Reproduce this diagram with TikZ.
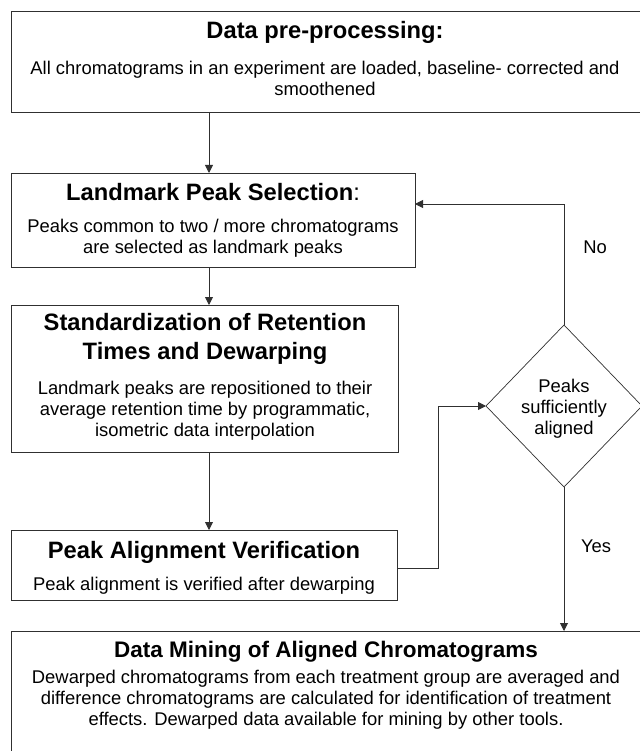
\documentclass[tikz,border=0pt]{standalone}
\usepackage{fontspec}
\setmainfont{Liberation Sans}
\usetikzlibrary{arrows.meta,shapes.geometric}
\definecolor{linegray}{HTML}{303030}
\begin{document}
\begin{tikzpicture}[x=1pt,y=-1pt,
  box/.style={draw=linegray, line width=0.9pt, inner sep=0pt, outer sep=0pt, anchor=north west},
  ttl/.style={font=\fontsize{23.7}{29.5}\selectfont\bfseries, align=center, inner sep=0pt},
  txt/.style={font=\fontsize{18.4}{21}\selectfont, align=center, inner sep=0pt},
  lbl/.style={font=\fontsize{18.4}{21}\selectfont, inner sep=0pt},
  conn/.style={draw=linegray, line width=0.9pt},
  arr/.style={conn, -{Triangle[length=8pt,width=8pt]}}]
\useasboundingbox (0,0) rectangle (639,751);
% boxes
\node[box, minimum width=631pt, minimum height=101pt] (pre) at (11,11) {};
\node[box, minimum width=404pt, minimum height=94pt] (lm) at (11,173) {};
\node[box, minimum width=387pt, minimum height=147pt] (std) at (11,305) {};
\node[box, minimum width=386pt, minimum height=70pt] (pav) at (11,530) {};
\node[box, minimum width=631pt, minimum height=130pt] (dm) at (11,631) {};
\node[draw=linegray, line width=0.7pt, shape=diamond, minimum width=156pt, minimum height=162pt, inner sep=0pt, outer sep=0pt] (dec) at (564,406) {};
% texts
\node[ttl] (preT) at (325,32) {Data pre-processing:};
\node[txt] (preB) at (325,78) {All chromatograms in an experiment are loaded, baseline- corrected and\\smoothened};
\node[ttl] (lmT) at (213,192) {Landmark Peak Selection\textmd{:}};
\node[txt] (lmB) at (213,238) {Peaks common to two / more chromatograms\\are selected as landmark peaks};
\node[ttl] (stdT) at (205,339) {Standardization of Retention\\Times and Dewarping};
\node[txt] (stdB) at (205,411) {Landmark peaks are repositioned to their\\average retention time by programmatic,\\isometric data interpolation};
\node[ttl] (pavT) at (204,552) {Peak Alignment Verification};
\node[txt] (pavB) at (204,586) {Peak alignment is verified after dewarping};
\node[ttl, font=\fontsize{22.5}{28}\selectfont\bfseries] (dmT) at (326,652) {Data Mining of Aligned Chromatograms};
\node[txt] (dmB) at (326,700) {Dewarped chromatograms from each treatment group are averaged and\\difference chromatograms are calculated for identification of treatment\\effects. Dewarped data available for mining by other tools.};
\node[txt] (decT) at (564,409) {Peaks\\sufficiently\\aligned};
\node[lbl] (no) at (595,247) {No};
\node[lbl] (yes) at (596,546) {Yes};
% connectors
\coordinate (c1) at (209,112);
\coordinate (c2) at (209,173);
\draw[arr] (c1) -- (c2);
\draw[arr] (lm.south -| c1) -- (std.north -| c1);
\draw[arr] (std.south -| c1) -- (pav.north -| c1);
\coordinate (b1) at (438,568);
\coordinate (b2) at (438,406);
\draw[arr] (pav.east |- b1) -- (b1) -- (b2) -- (dec.west);
\coordinate (n1) at (564,204);
\draw[arr] (dec.north) -- (n1) -- (lm.east |- n1);
\draw[arr] (dec.south) -- (dm.north -| dec.south);
\end{tikzpicture}
\end{document}
